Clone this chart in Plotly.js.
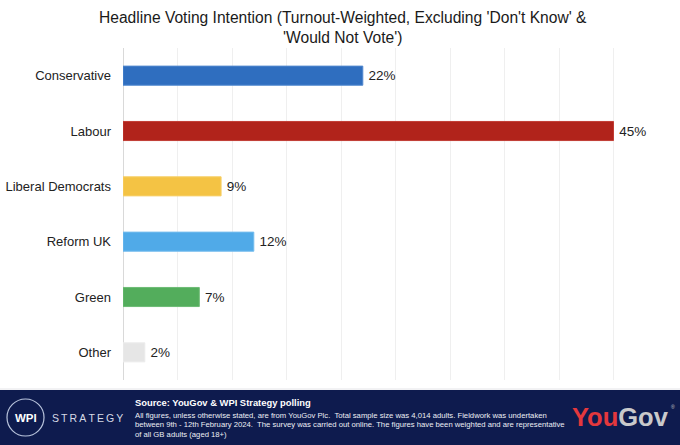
<!DOCTYPE html>
<html>
<head>
<meta charset="utf-8">
<script src="https://cdn.plot.ly/plotly-3.0.1.min.js"></script>
<style>html,body{margin:0;padding:0;background:#fff;}#chart{width:680px;height:445px;}</style>
</head>
<body>
<div id="chart"></div>
<script>
const parties = ["Conservative", "Labour", "Liberal Democrats", "Reform UK", "Green", "Other"];
const shares = [22, 45, 9, 12, 7, 2];
const barColors = ["#2f6ebf", "#b1231b", "#f4c344", "#50aae8", "#53ad5c", "#e6e6e6"];
const edgeColors = ["#5088cf", "#c23c34", "#f7d06a", "#74bcee", "#6dbb75", "#ececec"];

const titleText = "Headline Voting Intention (Turnout-Weighted, Excluding 'Don't Know' &amp;<br>'Would Not Vote')";
const sourceText = "Source: YouGov &amp; WPI Strategy polling";
const noteLines = [
  "All figures, unless otherwise stated, are from YouGov Plc.  Total sample size was 4,014 adults. Fieldwork was undertaken",
  "between 9th - 12th February 2024.  The survey was carried out online. The figures have been weighted and are representative",
  "of all GB adults (aged 18+)"
];

const W = 680, H = 445, L = 123, R = 12, T = 48, B = 65;
const pw = W - L - R, ph = H - T - B;
const px = X => (X - L) / pw;
const py = Y => (H - B - Y) / ph;
const sans = "Liberation Sans, Arial, Helvetica, sans-serif";

const trace = {
  type: "bar",
  orientation: "h",
  y: parties,
  x: shares,
  marker: {color: barColors, line: {color: edgeColors, width: 1}},
  texttemplate: "\u2009%{x}%",
  textposition: "outside",
  textfont: {family: sans, size: 13.5, color: "#222"},
  cliponaxis: false,
  constraintext: "none",
  hoverinfo: "skip"
};

const shapes = [
  {type: "rect", xref: "paper", yref: "paper", x0: px(0), x1: px(W), y0: py(390), y1: py(H + 2),
   fillcolor: "#0e1b4e", line: {width: 0}, layer: "above"},
  {type: "line", xref: "paper", yref: "paper", x0: px(0), x1: px(W), y0: py(389), y1: py(389),
   line: {color: "#e4e4e8", width: 1}},
  {type: "circle", xref: "paper", yref: "paper", x0: px(7), x1: px(44), y0: py(436), y1: py(399),
   line: {color: "#b9c4dc", width: 1.2}, layer: "above"}
];

const annotations = [
  {text: titleText, xref: "paper", yref: "paper", x: px(343), y: py(7), showarrow: false,
   font: {family: sans, size: 15.6, color: "#1a1a1a"}, xanchor: "center", yanchor: "top", align: "center"},
  {text: "<b>WPI</b>", xref: "paper", yref: "paper", x: px(25.5), y: py(418), showarrow: false,
   font: {family: sans, size: 11.5, color: "#ffffff"}, xanchor: "center", yanchor: "middle"},
  {text: "S T R A T E G Y".replace(/ /g, "\u2009"), xref: "paper", yref: "paper", x: px(50), y: py(418), showarrow: false,
   font: {family: sans, size: 10.5, color: "#d6dae6"}, xanchor: "left", yanchor: "middle"},
  {text: "<b>" + sourceText + "</b>", xref: "paper", yref: "paper", x: px(133), y: py(402.5), showarrow: false,
   font: {family: sans, size: 9.4, color: "#ffffff"}, xanchor: "left", yanchor: "middle"},
  {text: "<span style='color:#e4383d'>You</span><span style='color:#c9c9cb'>Gov</span>", xref: "paper", yref: "paper",
   x: px(570), y: py(417), showarrow: false, font: {family: sans, size: 25.5, color: "#c9c9cb", weight: "bold"},
   xanchor: "left", yanchor: "middle"},
  {text: "®", xref: "paper", yref: "paper", x: px(669), y: py(407), showarrow: false,
   font: {family: sans, size: 5, color: "#c9c9cb"}, xanchor: "left", yanchor: "middle"}
];
const lineY = [415, 424.5, 434];
noteLines.forEach((t, i) => annotations.push({
  text: t, xref: "paper", yref: "paper", x: px(133), y: py(lineY[i]), showarrow: false,
  font: {family: sans, size: 7.7, color: "#eceef4"}, xanchor: "left", yanchor: "middle"
}));

const layout = {
  width: W, height: H,
  margin: {l: L, r: R, t: T, b: B, pad: 0},
  paper_bgcolor: "#ffffff", plot_bgcolor: "#ffffff",
  showlegend: false,
  bargap: 0.655,
  xaxis: {range: [0, 50], dtick: 5, tick0: 0, showticklabels: false, ticks: "",
          showgrid: true, gridcolor: "#efefef", gridwidth: 1,
          zeroline: true, zerolinecolor: "#d9d9d9", zerolinewidth: 1, showline: false, fixedrange: true},
  yaxis: {autorange: "reversed", ticks: "", ticklabelstandoff: 11, showgrid: false, showline: false, zeroline: false,
          tickfont: {family: sans, size: 13, color: "#222"}, fixedrange: true},
  shapes: shapes,
  annotations: annotations
};

Plotly.newPlot("chart", [trace], layout, {displayModeBar: false, staticPlot: true});
</script>
</body>
</html>
